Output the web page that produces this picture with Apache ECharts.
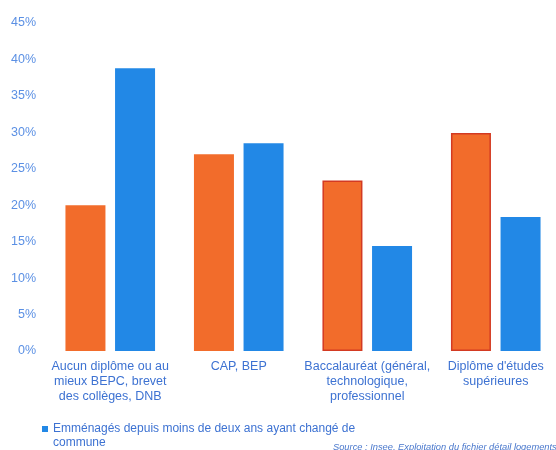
<!DOCTYPE html>
<html>
<head>
<meta charset="utf-8">
<script src="https://cdn.jsdelivr.net/npm/echarts@6/dist/echarts.min.js"></script>
<style>
  html, body { margin: 0; padding: 0; background: #ffffff; }
  #chart { width: 556px; height: 450px; }
</style>
</head>
<body>
<div id="chart"></div>
<script>
// Niveaux de diplôme
const categories = [
  'Aucun diplôme ou au\nmieux BEPC, brevet\ndes collèges, DNB',
  'CAP, BEP',
  'Baccalauréat (général,\ntechnologique,\nprofessionnel',
  'Diplôme d\'études\nsupérieures'
];
// Part en % par niveau de diplôme
const ensembleValues = [20.0, 27.0, 23.4, 29.9];
const emmenagesValues = [38.8, 28.5, 14.4, 18.4];
const ensembleName = 'Ensemble de la population';
const emmenagesName = 'Emménagés depuis moins de deux ans ayant changé de commune';
const yTicks = { min: 0, max: 45, interval: 5 };

const orange = '#f26c2b';
const blue = '#2288e6';
const textBlue = '#3d72d2';

// Square marker sitting at the top of a taller box, so it lines up with the
// first line of a two-line legend label.
const topSquareIcon = 'path://M0,0L6,0L6,6L0,6Z M0,20Z';

const chart = echarts.init(document.getElementById('chart'), null, { renderer: 'canvas' });

chart.setOption({
  animation: false,
  backgroundColor: '#ffffff',
  textStyle: { fontFamily: 'Liberation Sans, Arial, sans-serif' },
  grid: {
    left: 46, width: 514, top: 23, bottom: 99,
    containLabel: false,
    outerBoundsMode: 'none'
  },
  legend: {
    data: [emmenagesName],
    left: 42,
    top: 422,
    icon: topSquareIcon,
    itemWidth: 6,
    itemHeight: 20,
    itemGap: 3,
    padding: 0,
    formatter: function () {
      return 'Emménagés depuis moins de deux ans ayant changé de\ncommune';
    },
    textStyle: { color: textBlue, fontSize: 12, lineHeight: 14 }
  },
  xAxis: {
    type: 'category',
    data: categories,
    axisLine: { show: false },
    axisTick: { show: false },
    axisLabel: {
      color: textBlue,
      fontSize: 12.5,
      lineHeight: 15,
      margin: 8,
      interval: 0
    }
  },
  yAxis: {
    type: 'value',
    min: yTicks.min,
    max: yTicks.max,
    interval: yTicks.interval,
    axisLine: { show: false },
    axisTick: { show: false },
    splitLine: { show: false },
    axisLabel: {
      color: '#5b90e4',
      fontSize: 12.5,
      margin: 10,
      formatter: '{value}%'
    }
  },
  series: [
    {
      name: ensembleName,
      type: 'bar',
      barWidth: 40,
      barGap: '24%',
      itemStyle: { color: orange },
      data: ensembleValues.map(function (v, i) {
        if (i >= 2) {
          return { value: v, itemStyle: { color: orange, borderColor: '#d33a22', borderWidth: 1.5 } };
        }
        return v;
      })
    },
    {
      name: emmenagesName,
      type: 'bar',
      barWidth: 40,
      itemStyle: { color: blue },
      data: emmenagesValues
    }
  ],
  graphic: [
    {
      type: 'text',
      left: 333,
      top: 443,
      style: {
        text: 'Source : Insee, Exploitation du fichier détail logements',
        fill: '#4a78cc',
        font: 'italic 9.3px Liberation Sans, Arial, sans-serif'
      }
    }
  ]
});
</script>
</body>
</html>
